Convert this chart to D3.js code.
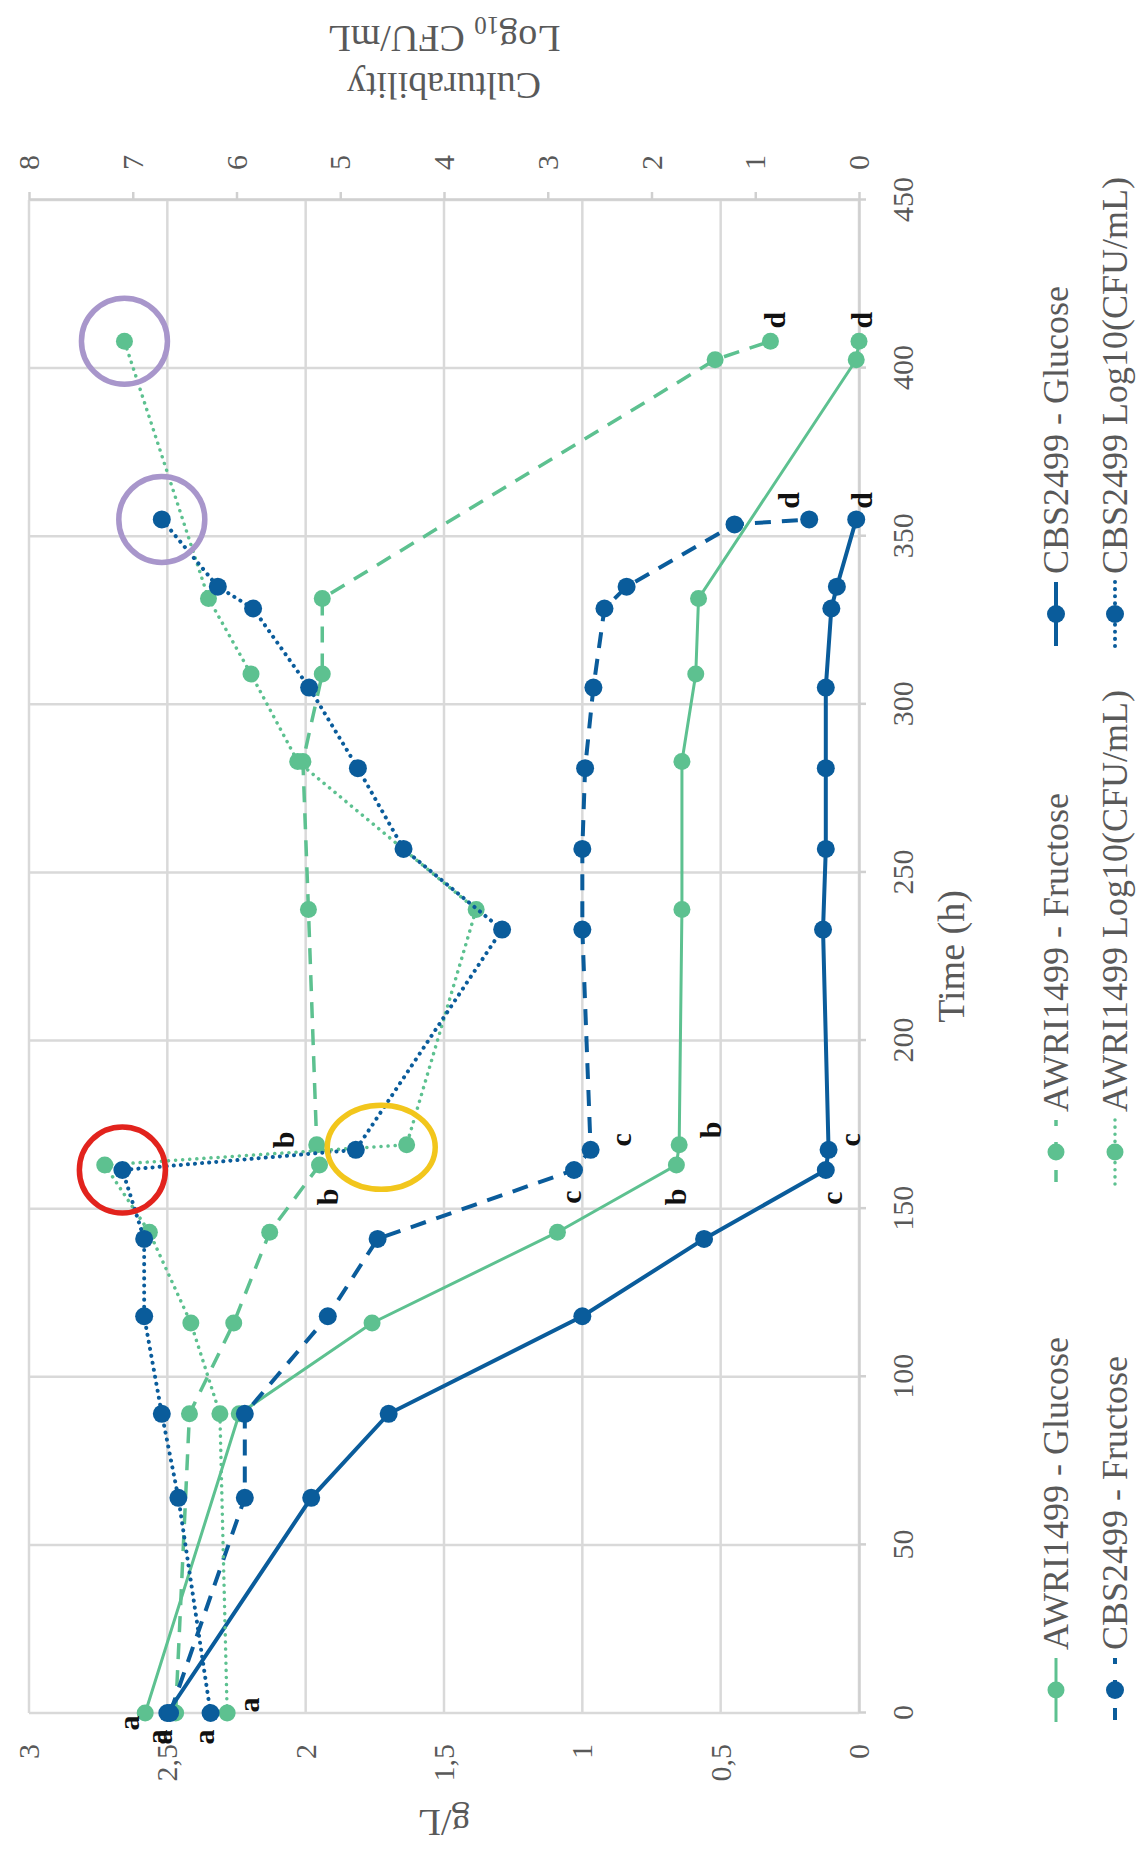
<!DOCTYPE html>
<html>
<head>
<meta charset="utf-8">
<script src="https://cdn.jsdelivr.net/npm/d3@7"></script>
<style>
  body { margin: 0; background: #fff; }
  svg { display: block; }
</style>
</head>
<body>
<svg id="chart" width="1140" height="1850"></svg>
<script>
// ---- sampling times (h) ----
const awriTimes = [0, 89, 116, 143, 163, 169, 239, 283, 309, 331.5, 402.5, 408];
const cbsTimes  = [0, 64, 89, 118, 141, 161.5, 167.5, 233, 257, 281, 305, 328.5, 335, 353.5, 355];

// ---- sugars (g/L) ----
const awriGlucose  = [2.58, 2.24, 1.76, 1.09, 0.66, 0.65, 0.64, 0.64, 0.59, 0.58, 0.01, 0.00];
const awriFructose = [2.47, 2.42, 2.26, 2.13, 1.95, 1.96, 1.99, 2.01, 1.94, 1.94, 0.52, 0.32];
const cbsGlucose   = [2.50, 1.98, 1.70, 1.00, 0.56, 0.12, 0.11, 0.13, 0.12, 0.12, 0.12, 0.10, 0.08, null, 0.01];
const cbsFructose  = [2.49, 2.22, 2.22, 1.92, 1.74, 1.03, 0.97, 1.00, 1.00, 0.99, 0.96, 0.92, 0.84, 0.45, 0.18];

// ---- culturability (log10 CFU/mL) ----
const awriCFU = [6.09, 6.16, 6.44, 6.84, 7.27, 4.36, 3.69, 5.41, 5.86, 6.27, null, 7.08];
const cbsCFU  = [6.25, 6.56, 6.72, 6.89, 6.89, 7.10, 4.85, 3.44, 4.39, 4.83, 5.30, 5.84, 6.18, null, 6.72];

// ---- axes ----
const timeTicks = [0, 50, 100, 150, 200, 250, 300, 350, 400, 450];
const massTicks = [0, 0.5, 1, 1.5, 2, 2.5, 3];
const logTicks  = [0, 1, 2, 3, 4, 5, 6, 7, 8];

// ---- legend order ----
const seriesKeys  = ['awriGlucose', 'awriFructose', 'cbsGlucose', 'cbsFructose', 'awriCFU', 'cbsCFU'];
const seriesNames = ['AWRI1499 - Glucose', 'AWRI1499 - Fructose', 'CBS2499 - Glucose',
                     'CBS2499 - Fructose', 'AWRI1499 Log10(CFU/mL)', 'CBS2499 Log10(CFU/mL)'];

// ---- statistical group letters ----
const letterLabels = [
  { key: 'awriGlucose',  t: 0,     text: 'a' },
  { key: 'awriFructose', t: 0,     text: 'a' },
  { key: 'cbsGlucose',   t: 0,     text: 'a' },
  { key: 'cbsCFU',       t: 0,     text: 'a' },
  { key: 'awriCFU',      t: 0,     text: 'a' },
  { key: 'awriGlucose',  t: 163,   text: 'b' },
  { key: 'awriGlucose',  t: 169,   text: 'b' },
  { key: 'awriFructose', t: 163,   text: 'b' },
  { key: 'awriFructose', t: 169,   text: 'b' },
  { key: 'cbsFructose',  t: 161.5, text: 'c' },
  { key: 'cbsFructose',  t: 167.5, text: 'c' },
  { key: 'cbsGlucose',   t: 161.5, text: 'c' },
  { key: 'cbsGlucose',   t: 167.5, text: 'c' },
  { key: 'awriFructose', t: 408,   text: 'd' },
  { key: 'awriGlucose',  t: 408,   text: 'd' },
  { key: 'cbsFructose',  t: 355,   text: 'd' },
  { key: 'cbsGlucose',   t: 355,   text: 'd' }
];
// label offsets from their point (px, chart frame)
const letterOffsets = [
  [-10, -17], [-24, -19], [-24, -6], [-24, -7], [8, 21],
  [-32, -1], [15, 31], [-32, 8], [5, -33],
  [-27, -4], [10, 30], [-28, 6], [10, 21],
  [21, 4], [21, 2], [19, -21], [19, 5]
];

// ---- highlighted culturability points ----
const highlights = [
  { points: [['cbsCFU', 161.5]],                    color: '#e2231d' },
  { points: [['cbsCFU', 167.5], ['awriCFU', 169]], color: '#f2c61c' },
  { points: [['cbsCFU', 355]],                      color: '#a896cb' },
  { points: [['awriCFU', 408]],                     color: '#a896cb' }
];
const highlightRadii = [[43, 43], [42, 54], [43, 43], [43, 43]];

// ---------------------------------------------------------------
const green = '#5dc190';
const blue  = '#0a5c9b';
const serif = '"Liberation Serif", "Times New Roman", serif';

const seriesData = {
  awriGlucose:  { times: awriTimes, values: awriGlucose,  axis: 'mass' },
  awriFructose: { times: awriTimes, values: awriFructose, axis: 'mass' },
  cbsGlucose:   { times: cbsTimes,  values: cbsGlucose,   axis: 'mass' },
  cbsFructose:  { times: cbsTimes,  values: cbsFructose,  axis: 'mass' },
  awriCFU:      { times: awriTimes, values: awriCFU,      axis: 'log' },
  cbsCFU:       { times: cbsTimes,  values: cbsCFU,       axis: 'log' }
};
const seriesStyle = {
  awriGlucose:  { color: green, width: 3,   dash: null,    cap: 'butt',  r: 8.5 },
  awriFructose: { color: green, width: 3.5, dash: '16,11', cap: 'butt',  r: 8.5 },
  cbsGlucose:   { color: blue,  width: 4,   dash: null,    cap: 'butt',  r: 9 },
  cbsFructose:  { color: blue,  width: 4,   dash: '16,11', cap: 'butt',  r: 9 },
  awriCFU:      { color: green, width: 3.5, dash: '0.1,7', cap: 'round', r: 8.5 },
  cbsCFU:       { color: blue,  width: 4,   dash: '0.1,7', cap: 'round', r: 9 }
};

// The chart is laid out in a 1850 x 1140 frame and turned a quarter turn
// anticlockwise onto the page.
const FW = 1850, FH = 1140;
const svg = d3.select('#chart');
svg.append('rect').attr('width', 1140).attr('height', 1850).attr('fill', '#fff');
const frame = svg.append('g').attr('transform', `translate(0,${FW}) rotate(-90)`);

const x = d3.scaleLinear().domain([0, 450]).range([137, 1650]);
const yMass = d3.scaleLinear().domain([0, 3]).range([859, 29]);
const yLog = d3.scaleLinear().domain([0, 8]).range([859, 29]);
const yFor = key => seriesData[key].axis === 'mass' ? yMass : yLog;

const pointsOf = key => {
  const s = seriesData[key];
  return s.times.map((t, i) => ({ t, v: s.values[i] })).filter(d => d.v != null);
};
const valueAt = (key, t) => pointsOf(key).find(d => d.t === t).v;

// ---- gridlines ----
const grid = frame.append('g').attr('class', 'grid');
grid.selectAll('line.h').data(massTicks).join('line').attr('class', 'h')
  .attr('x1', x(0)).attr('x2', x(450))
  .attr('y1', d => yMass(d)).attr('y2', d => yMass(d))
  .attr('stroke', '#d9d9d9').attr('stroke-width', 2.5);
grid.selectAll('line.v').data(timeTicks).join('line').attr('class', 'v')
  .attr('x1', d => x(d)).attr('x2', d => x(d))
  .attr('y1', yMass(3)).attr('y2', yMass(0))
  .attr('stroke', '#d9d9d9').attr('stroke-width', 2.5);

// ---- axes ----
const styleAxis = (sel, fontSize) => {
  sel.select('.domain').attr('stroke', '#d0d0d0').attr('stroke-width', 2.5);
  sel.selectAll('.tick line').attr('stroke', '#d0d0d0').attr('stroke-width', 2.5);
  sel.selectAll('.tick text').attr('fill', '#595959')
    .style('font-family', serif).style('font-size', fontSize + 'px');
};

frame.append('g')
  .attr('transform', `translate(0,${yMass(0)})`)
  .call(d3.axisBottom(x).tickValues(timeTicks).tickSize(7).tickSizeOuter(0).tickPadding(26))
  .call(s => styleAxis(s, 30));

frame.append('g')
  .attr('transform', `translate(${x(0)},0)`)
  .call(d3.axisLeft(yMass).tickValues(massTicks).tickSize(0).tickPadding(31)
    .tickFormat(d => String(d).replace('.', ',')))
  .call(s => styleAxis(s, 30))
  .call(s => s.select('.domain').remove());

frame.append('g')
  .attr('transform', `translate(${x(450)},0)`)
  .call(d3.axisRight(yLog).tickValues(logTicks).tickSize(8).tickSizeOuter(0).tickPadding(22))
  .call(s => styleAxis(s, 30));

// ---- axis titles ----
frame.append('text')
  .attr('x', (x(0) + x(450)) / 2).attr('y', 964)
  .attr('text-anchor', 'middle').attr('fill', '#595959')
  .style('font-family', serif).style('font-size', '38px')
  .text('Time (h)');

frame.append('text')
  .attr('transform', `translate(40,${(yMass(0) + yMass(3)) / 2}) rotate(-90)`)
  .attr('text-anchor', 'middle').attr('fill', '#595959')
  .style('font-family', serif).style('font-size', '38px')
  .text('g/L');

const logTitle = frame.append('g')
  .attr('transform', `translate(1777,${(yLog(0) + yLog(8)) / 2}) rotate(-90)`)
  .attr('fill', '#595959')
  .style('font-family', serif).style('font-size', '38px');
logTitle.append('text').attr('text-anchor', 'middle').attr('y', 0).text('Culturability');
const l2 = logTitle.append('text').attr('text-anchor', 'middle').attr('y', 47);
l2.append('tspan').text('Log');
l2.append('tspan').attr('font-size', '25px').attr('dy', 9).text('10');
l2.append('tspan').attr('dy', -9).text(' CFU/mL');

// ---- series ----
const plot = frame.append('g').attr('class', 'series');
seriesKeys.forEach(key => {
  const st = seriesStyle[key];
  const y = yFor(key);
  const pts = pointsOf(key);
  const line = d3.line().x(d => x(d.t)).y(d => y(d.v));
  const gS = plot.append('g').attr('class', key);
  gS.append('path').datum(pts)
    .attr('d', line).attr('fill', 'none')
    .attr('stroke', st.color).attr('stroke-width', st.width)
    .attr('stroke-dasharray', st.dash).attr('stroke-linecap', st.cap);
  gS.selectAll('circle').data(pts).join('circle')
    .attr('cx', d => x(d.t)).attr('cy', d => y(d.v)).attr('r', st.r)
    .attr('fill', st.color);
});

// ---- highlight rings ----
frame.append('g').selectAll('ellipse').data(highlights).join('ellipse')
  .attr('cx', d => d3.mean(d.points, p => x(p[1])))
  .attr('cy', d => d3.mean(d.points, p => yFor(p[0])(valueAt(p[0], p[1]))))
  .attr('rx', (d, i) => highlightRadii[i][0])
  .attr('ry', (d, i) => highlightRadii[i][1])
  .attr('fill', 'none').attr('stroke', d => d.color).attr('stroke-width', 5.5);

// ---- group letters ----
frame.append('g').selectAll('text').data(letterLabels).join('text')
  .attr('x', (d, i) => x(d.t) + letterOffsets[i][0])
  .attr('y', (d, i) => yFor(d.key)(valueAt(d.key, d.t)) + letterOffsets[i][1])
  .attr('text-anchor', 'middle').attr('dominant-baseline', 'central')
  .attr('fill', '#111').attr('font-weight', 'bold')
  .style('font-family', serif).style('font-size', '30px')
  .text(d => d.text);

// ---- legend ----
const legend = frame.append('g').attr('class', 'legend');
seriesKeys.forEach((key, i) => {
  const st = seriesStyle[key];
  const mx = 160 + (i % 3) * 538;
  const my = 1056 + Math.floor(i / 3) * 59;
  const item = legend.append('g').attr('transform', `translate(${mx},${my})`);
  item.append('line').attr('x1', -32).attr('x2', 32)
    .attr('stroke', st.color).attr('stroke-width', st.width)
    .attr('stroke-dasharray', st.dash ? (st.dash === '16,11' ? '12,16' : st.dash) : null)
    .attr('stroke-dashoffset', st.dash === '16,11' ? -2 : 0)
    .attr('stroke-linecap', st.cap);
  item.append('circle').attr('r', st.r).attr('fill', st.color);
  item.append('text').attr('x', 40).attr('dominant-baseline', 'central')
    .attr('fill', '#595959')
    .style('font-family', serif).style('font-size', '36px')
    .text(seriesNames[i]);
});
</script>
</body>
</html>
